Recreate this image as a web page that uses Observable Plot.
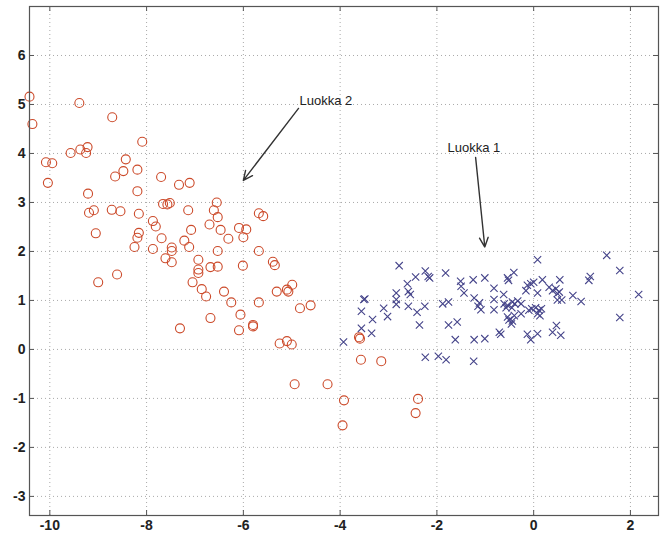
<!DOCTYPE html>
<html>
<head>
<meta charset="utf-8">
<script src="https://cdn.jsdelivr.net/npm/d3@7"></script>
<script src="https://cdn.jsdelivr.net/npm/@observablehq/plot@0.6"></script>
<style>
  html, body { margin: 0; padding: 0; background: #fff; }
  #chart { width: 660px; height: 535px; }
</style>
</head>
<body>
<div id="chart"></div>
<script>
// Luokka 2 (red circles)
const luokka2X = [-10.42,-10.36,-9.39,-8.71,-10.08,-9.95,-10.04,-9.57,-9.37,-9.22,-9.25,-8.09,-8.43,-8.48,-8.65,-8.19,-8.19,-9.21,-9.09,-9.19,
  -8.72,-8.54,-8.16,-9.05,-7.70,-7.33,-7.11,-7.66,-7.52,-7.57,-7.14,-6.55,-6.61,-6.53,-6.70,-6.47,-7.87,-7.81,-7.08,-7.69,
  -8.16,-8.19,-8.25,-7.87,-7.48,-7.48,-7.22,-7.12,-7.61,-7.48,-6.93,-6.53,-9.00,-8.61,-7.31,-6.68,-7.05,-6.86,-6.77,-6.93,
  -6.93,-6.68,-6.53,-6.31,-6.09,-5.94,-6.00,-5.68,-5.59,-5.68,-6.01,-5.39,-5.35,-6.40,-6.25,-6.06,-6.09,-5.68,-5.80,-5.80,
  -5.31,-5.10,-5.07,-4.99,-4.83,-4.61,-5.25,-5.10,-5.00,-4.94,-4.26,-3.92,-3.95,-3.61,-3.59,-3.57,-3.15,-2.39,-2.44];
const luokka2Y = [5.16,4.60,5.03,4.74,3.82,3.80,3.40,4.01,4.08,4.13,4.01,4.24,3.88,3.64,3.53,3.67,3.23,3.18,2.84,2.79,
  2.85,2.82,2.77,2.37,3.52,3.36,3.40,2.97,2.99,2.96,2.84,3.00,2.84,2.70,2.55,2.44,2.62,2.51,2.44,2.27,
  2.38,2.28,2.09,2.05,2.08,2.01,2.22,2.09,1.86,1.78,1.83,2.01,1.37,1.53,0.43,0.64,1.37,1.23,1.08,1.63,
  1.56,1.68,1.69,2.26,2.48,2.45,2.29,2.78,2.72,2.01,1.71,1.79,1.72,1.18,0.96,0.71,0.39,0.96,0.50,0.47,
  1.18,1.22,1.18,1.32,0.84,0.90,0.12,0.17,0.10,-0.71,-0.71,-1.04,-1.55,0.25,0.22,-0.21,-0.24,-1.01,-1.30];

// Luokka 1 (blue crosses)
const luokka1X = [-3.93,-3.51,-3.49,-3.56,-3.56,-3.35,-3.33,-3.10,-3.02,-2.78,-2.84,-2.84,-2.84,-2.61,-2.59,-2.55,-2.59,-2.44,-2.41,-2.25,
  -2.36,-2.24,-2.18,-2.15,-1.82,-1.88,-1.76,-1.76,-1.58,-1.62,-2.24,-1.97,-1.81,-1.24,-1.23,-1.01,-1.51,-1.50,-1.44,-1.25,
  -1.01,-1.23,-1.12,-1.09,-1.15,-0.82,-0.82,-0.82,-0.62,-0.71,-0.68,-0.54,-0.52,-0.41,-0.61,-0.57,-0.54,-0.45,-0.44,-0.39,
  -0.33,-0.26,-0.54,-0.51,-0.44,-0.46,-0.40,-0.26,-0.13,-0.06,0.00,-0.16,0.08,0.08,-0.10,-0.04,0.04,0.11,0.16,0.08,
  0.13,-0.13,-0.06,0.08,0.18,0.32,0.39,0.46,0.53,0.49,0.54,0.49,0.58,0.47,0.39,0.56,0.81,0.98,1.14,1.17,
  1.51,1.78,1.78,2.17];
const luokka1Y = [0.15,1.02,1.03,0.78,0.43,0.33,0.61,0.84,0.67,1.71,1.15,1.02,0.92,1.34,1.18,1.12,0.88,1.48,0.76,0.88,
  0.50,1.60,1.49,1.46,1.56,0.93,0.97,0.50,0.56,0.20,-0.16,-0.14,-0.21,-0.24,0.20,0.22,1.39,1.29,1.15,1.42,
  1.46,1.05,0.95,0.81,0.88,1.25,1.02,0.81,1.12,0.35,0.31,1.46,1.41,1.57,0.93,0.85,0.90,0.85,0.97,0.93,
  0.99,0.93,0.66,0.60,0.58,0.52,0.69,0.73,1.31,1.34,1.37,1.20,1.83,1.15,0.80,0.83,0.85,0.80,0.83,0.73,
  0.69,0.31,0.20,0.32,1.42,1.27,1.20,1.24,1.17,1.14,1.42,1.01,1.01,0.49,0.35,0.29,1.10,0.98,1.41,1.49,
  1.92,1.61,0.65,1.12];

// Axis ticks
const xTicks = [-10, -8, -6, -4, -2, 0, 2];
const yTicks = [-3, -2, -1, 0, 1, 2, 3, 4, 5, 6];

// Annotations
const labelText = ["Luokka 2", "Luokka 1"];
const labelX = [-4.84, -1.78];
const labelY = [5.08, 4.12];
const arrowX1 = [-4.86, -1.20];
const arrowY1 = [4.92, 3.92];
const arrowX2 = [-6.00, -1.01];
const arrowY2 = [3.45, 2.09];

const luokka2 = luokka2X.map((x, i) => ({x, y: luokka2Y[i]}));
const luokka1 = luokka1X.map((x, i) => ({x, y: luokka1Y[i]}));
const labels = labelText.map((t, i) => ({t, x: labelX[i], y: labelY[i]}));
const arrows = arrowX1.map((x1, i) => ({x1, y1: arrowY1[i], x2: arrowX2[i], y2: arrowY2[i]}));

const W = 660, H = 535, mT = 6, mB = 20, mL = 29, mR = 2;
const innerH = H - mT - mB, innerW = W - mL - mR;
const tk = 5;

const chart = Plot.plot({
  width: W, height: H,
  marginTop: mT, marginBottom: mB, marginLeft: mL, marginRight: mR,
  x: {domain: [-10.42, 2.58]},
  y: {domain: [-3.39, 7.0]},
  style: {fontFamily: "'Liberation Sans', Arial, sans-serif", fontSize: "14px", background: "#fff", color: "#222"},
  marks: [
    Plot.ruleX(xTicks, {stroke: "#aaa", strokeDasharray: "1,3"}),
    Plot.ruleY(yTicks, {stroke: "#aaa", strokeDasharray: "1,3"}),
    Plot.dot(luokka2, {x: "x", y: "y", symbol: "circle", r: 4.5, stroke: "#cc4a2a", strokeWidth: 1.1}),
    Plot.dot(luokka1, {x: "x", y: "y", symbol: "times", r: 3.4, stroke: "#45448a", strokeWidth: 1.1}),
    Plot.tickX(xTicks, {x: d => d, insetTop: innerH - tk, stroke: "#555"}),
    Plot.tickX(xTicks, {x: d => d, insetBottom: innerH - tk, stroke: "#555"}),
    Plot.tickY(yTicks, {y: d => d, insetRight: innerW - tk, stroke: "#555"}),
    Plot.tickY(yTicks, {y: d => d, insetLeft: innerW - tk, stroke: "#555"}),
    Plot.frame({stroke: "#555", strokeWidth: 1.2}),
    Plot.axisX(xTicks, {tickSize: 0, tickPadding: 5, tickFormat: d => String(d), label: null, fontWeight: "bold", fill: "#222"}),
    Plot.axisY(yTicks, {tickSize: 0, tickPadding: 4, tickFormat: d => String(d), label: null, fontWeight: "bold", fill: "#222"}),
    Plot.arrow(arrows, {x1: "x1", y1: "y1", x2: "x2", y2: "y2", stroke: "#333", strokeWidth: 1.4, headLength: 11, headAngle: 50}),
    Plot.text(labels, {x: "x", y: "y", text: "t", textAnchor: "start", fontSize: 13, fill: "#222"})
  ]
});
document.getElementById("chart").appendChild(chart);
</script>
</body>
</html>
